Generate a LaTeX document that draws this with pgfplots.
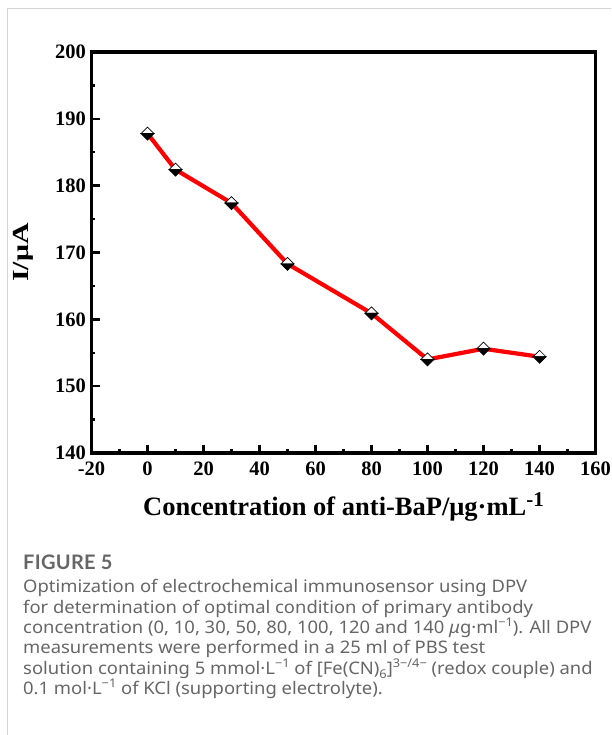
\documentclass[border=0pt]{standalone}
\usepackage{fontspec}
\usepackage{pgfplots}
\pgfplotsset{compat=1.18}
\setmainfont{Liberation Serif}
\newfontfamily\ylabfont[FakeStretch=1.3]{Liberation Serif}
\newfontfamily\capfont[FakeStretch=1.065]{Noto Sans}
\newfontfamily\capheadfont[LetterSpace=1.5]{Lato}
\definecolor{captext}{HTML}{666666}
\definecolor{frameline}{HTML}{D4D4D4}

% caption superscript / subscript
\newcommand{\sups}[1]{\raisebox{0.42em}{\fontsize{12}{12}\selectfont #1}}
\newcommand{\subs}[1]{\raisebox{-0.22em}{\fontsize{12}{12}\selectfont #1}}

% half-filled diamond: white upper half, black lower half
\pgfdeclareplotmark{halfdiamond}{%
  \pgfsetfillcolor{white}%
  \pgfpathmoveto{\pgfqpoint{-\pgfplotmarksize}{0pt}}%
  \pgfpathlineto{\pgfqpoint{0pt}{\pgfplotmarksize}}%
  \pgfpathlineto{\pgfqpoint{\pgfplotmarksize}{0pt}}%
  \pgfpathclose
  \pgfusepathqfillstroke
  \pgfsetfillcolor{black}%
  \pgfpathmoveto{\pgfqpoint{-\pgfplotmarksize}{0pt}}%
  \pgfpathlineto{\pgfqpoint{0pt}{-\pgfplotmarksize}}%
  \pgfpathlineto{\pgfqpoint{\pgfplotmarksize}{0pt}}%
  \pgfpathclose
  \pgfusepathqfillstroke
}

\begin{document}
\begin{tikzpicture}[x=1pt,y=1pt]
  \path[use as bounding box] (0,0) rectangle (611,735);
  % panel border
  \draw[frameline, line width=1pt] (7,0) -- (7,726) -- (611,726);

  \begin{axis}[
    at={(91.5pt,282pt)}, anchor=south west,
    scale only axis, width=504pt, height=401pt,
    xmin=-20, xmax=160, ymin=140, ymax=200,
    xtick={-20,0,...,160}, ytick={140,150,...,200},
    minor x tick num=1, minor y tick num=1,
    tick pos=left, tick align=inside,
    axis line style={line width=3.6pt},
    major tick style={line width=2.6pt, black},
    minor tick style={line width=2.2pt, black},
    major tick length=8pt, minor tick length=3.5pt,
    /pgf/number format/assume math mode=true,
    tick label style={font=\fontsize{20.5}{24}\selectfont\bfseries},
    xticklabel style={yshift=-5pt},
    yticklabel style={xshift=-2pt},
    xlabel={Concentration of anti-BaP/μg·mL\raisebox{9pt}{\fontsize{21}{21}\selectfont -1}},
    ylabel={I/μA},
    xlabel style={font=\fontsize{26.5}{30}\selectfont\bfseries, yshift=-10pt},
    ylabel style={font=\fontsize{23}{28}\ylabfont\bfseries, yshift=15pt},
  ]
    \addplot[red, line width=4.2pt,
      mark=halfdiamond, mark size=6.5pt,
      mark options={draw=black, line width=0.7pt}]
      coordinates {
        (0,187.8) (10,182.4) (30,177.4) (50,168.3)
        (80,160.9) (100,154.0) (120,155.6) (140,154.4)
      };
  \end{axis}

  % caption
  \node[anchor=north west, inner sep=0pt, text=captext] at (23,180) {%
    \parbox[t]{590pt}{%
      \capheadfont\fontsize{20}{22}\selectfont\bfseries FIGURE 5\par
      \vspace{2.5pt}%
      \capfont\fontsize{17.3}{20.4}\selectfont\mdseries
      Optimization of electrochemical immunosensor using DPV\\
      for determination of optimal condition of primary antibody\\
      concentration (0, 10, 30, 50, 80, 100, 120 and 140 {\itshape μ}g·ml\sups{−1}). All DPV\\
      measurements were performed in a 25 ml of PBS test\\
      solution containing 5 mmol·L\sups{−1} of [Fe(CN)\subs{6}]\sups{3−/4−} (redox couple) and\\
      0.1 mol·L\sups{−1} of KCl (supporting electrolyte).}};
\end{tikzpicture}
\end{document}
